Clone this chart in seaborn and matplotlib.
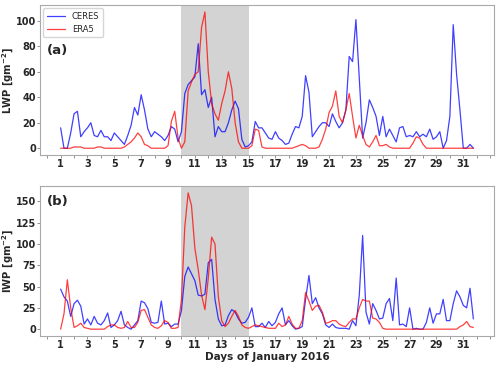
import numpy as np
import pandas as pd
import matplotlib
matplotlib.use("Agg")
import matplotlib.pyplot as plt
import seaborn as sns

# 6-hourly values, one row per day (Jan 1 .. Jan 31)
lwp_ceres = [
    16, 0, 0, 12,    27, 29, 9, 13,    16, 20, 10, 9,    14, 9, 9, 6,
    12, 9, 6, 3,     10, 18, 32, 26,   42, 30, 15, 9,    13, 11, 9, 6,
    10, 17, 15, 5,   13, 43, 50, 53,   56, 82, 42, 46,   32, 40, 9, 17,
    13, 13, 20, 30,  37, 31, 7, 1,     2, 5, 21, 16,     16, 12, 8, 7,
    13, 8, 6, 3,     4, 11, 17, 16,    25, 57, 44, 9,    13, 17, 20, 20,
    17, 27, 21, 16,  20, 30, 72, 68,   101, 55, 8, 20,   38, 32, 25, 10,
    25, 9, 15, 10,   5, 16, 17, 9,     10, 9, 13, 9,     11, 9, 15, 7,
    9, 13, 0, 6,     25, 97, 58, 30,   0, 0, 3, 0,
]
lwp_era5 = [
    0, 0, 0, 0,      1, 1, 1, 0,       0, 0, 0, 1,       1, 0, 0, 0,
    0, 0, 0, 1,      3, 5, 8, 12,      9, 3, 2, 0,       0, 0, 0, 0,
    2, 21, 29, 8,    0, 5, 45, 52,     58, 60, 95, 107,  60, 35, 27, 22,
    35, 45, 60, 47,  20, 5, 0, 0,      0, 2, 15, 14,     1, 0, 0, 0,
    0, 0, 0, 0,      0, 0, 1, 2,       3, 2, 0, 0,       0, 1, 7, 15,
    28, 33, 45, 25,  20, 30, 43, 25,   8, 18, 10, 3,     1, 5, 10, 2,
    2, 3, 1, 0,      0, 0, 0, 0,       0, 4, 9, 8,       3, 0, 0, 0,
    0, 0, 0, 0,      0, 0, 0, 0,       0, 0, 0, 0,
]
iwp_ceres = [
    47, 38, 33, 15,  30, 34, 27, 6,    12, 5, 15, 7,     5, 10, 19, 2,
    5, 10, 21, 5,    2, 0, 5, 10,      33, 31, 24, 8,    7, 8, 33, 6,
    7, 3, 6, 6,      22, 62, 73, 65,   57, 40, 39, 41,   78, 82, 35, 12,
    4, 5, 16, 23,    20, 12, 7, 8,     14, 25, 3, 3,     7, 2, 9, 4,
    8, 18, 25, 5,    10, 4, 0, 1,      3, 35, 63, 30,    37, 25, 18, 5,
    2, 6, 2, 1,      1, 1, 0, 10,      4, 40, 110, 20,   6, 30, 22, 12,
    13, 30, 36, 10,  60, 5, 6, 3,      25, 0, 1, 0,      0, 8, 25, 7,
    18, 18, 35, 10,  10, 30, 45, 38,   28, 25, 48, 12,
]
iwp_era5 = [
    0, 18, 58, 25,   2, 4, 7, 2,       1, 0, 0, 0,       0, 0, 3, 5,
    5, 2, 1, 2,      9, 2, 2, 8,       22, 23, 14, 5,    2, 1, 4, 10,
    8, 1, 1, 2,      35, 120, 160, 145, 95, 70, 40, 23,  60, 108, 100, 38,
    10, 3, 7, 15,    22, 15, 5, 2,     1, 3, 5, 4,       3, 2, 1, 1,
    1, 7, 3, 5,      15, 6, 1, 1,      10, 43, 33, 22,   27, 28, 20, 7,
    8, 10, 10, 6,    4, 3, 8, 12,      12, 25, 35, 33,   33, 13, 12, 8,
    1, 0, 0, 0,      0, 0, 0, 0,       0, 0, 0, 0,       0, 0, 0, 0,
    0, 0, 0, 0,      0, 0, 0, 3,       5, 9, 3, 2,
]

days = 1 + np.arange(len(lwp_ceres)) * 0.25
odd_days = list(range(1, 32, 2))


def long_frame(ceres, era5):
    return pd.DataFrame({
        "day": np.concatenate([days, days]),
        "value": ceres + era5,
        "source": ["CERES"] * len(ceres) + ["ERA5"] * len(era5),
    })


sns.set_style("ticks")
plt.rcParams["font.family"] = ["DejaVu Sans"]
plt.rcParams["font.weight"] = "bold"

fig, axes = plt.subplots(2, 1, figsize=(5, 3.66), dpi=100)
fig.subplots_adjust(left=0.08, right=0.988, top=0.986, bottom=0.082, hspace=0.207)

panels = [
    (axes[0], lwp_ceres, lwp_era5, r"LWP [gm$^{\mathbf{-2}}$]", "(a)", 0.70, [0, 20, 40, 60, 80, 100]),
    (axes[1], iwp_ceres, iwp_era5, r"IWP [gm$^{\mathbf{-2}}$]", "(b)", 0.90, [0, 25, 50, 75, 100, 125, 150]),
]

for ax, ceres, era5, ylab, tag, tag_y, yticks in panels:
    ax.axvspan(10, 15, color="lightgray", zorder=0, lw=0)
    sns.lineplot(data=long_frame(ceres, era5), x="day", y="value", hue="source",
                 palette={"CERES": "blue", "ERA5": "red"}, alpha=0.75, linewidth=0.9,
                 ax=ax, legend=(tag == "(a)"))
    ax.set_xticks(range(0, 34))
    ax.set_xticklabels([str(d) if d in odd_days else "" for d in range(0, 34)])
    ax.set_yticks(yticks)
    ax.tick_params(labelsize=7, length=2, width=0.6, color="gray", pad=1)
    for lab in ax.get_xticklabels() + ax.get_yticklabels():
        lab.set_fontweight("bold")
    for sp in ax.spines.values():
        sp.set_color("darkgray")
        sp.set_linewidth(0.8)
    ax.set_ylabel(ylab, fontsize=7.2, fontweight="bold")
    ax.yaxis.set_label_coords(-0.052, 0.5)
    ax.set_xlabel("")
    ax.text(0.015, tag_y, tag, transform=ax.transAxes, fontsize=9.5,
            fontweight="bold", va="center", ha="left")

leg = axes[0].legend(loc="upper left", frameon=True, borderaxespad=0.4,
                     handlelength=2.2, prop={"size": 6, "weight": "normal"})
axes[1].set_xlabel("Days of January 2016", fontsize=7.5, fontweight="bold", labelpad=1)

fig.savefig("out.png", dpi=100)
